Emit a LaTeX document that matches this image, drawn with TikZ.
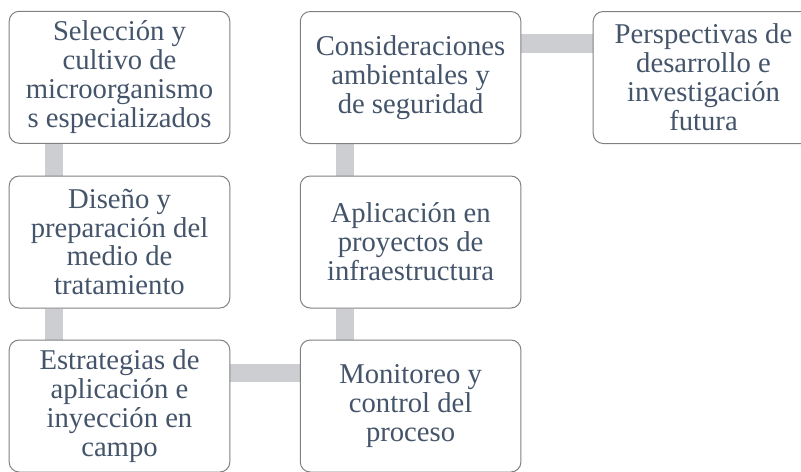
\documentclass[tikz,border=0pt]{standalone}
\usepackage{fontspec}
\setmainfont{Liberation Serif}
\usetikzlibrary{backgrounds}

\begin{document}
\begin{tikzpicture}[x=0.75pt,y=0.75pt,yscale=-1,xscale=1,
  stepbox/.style={draw={rgb, 255:red, 128; green, 128; blue, 128 },line width=0.75pt,fill=white,rounded corners=7.5pt,
    minimum width=165.5pt,minimum height=99pt,inner sep=0pt,align=center,
    text={rgb, 255:red, 68; green, 84; blue, 106 },font=\fontsize{21.5}{21.7}\selectfont},
  link/.style={draw={rgb, 255:red, 204; green, 206; blue, 210 },line width=13.9pt}]
%set diagram to 801 x 472
\useasboundingbox (0,0) rectangle (801,472);
\clip (0,0) rectangle (801,472);

%Shape: Rounded Rect [id:sel] 
\node (sel) at (119.5,77.3) [stepbox] {Selección y\\cultivo de\\microorganismo\\s especializados};
%Shape: Rounded Rect [id:dis] 
\node (dis) at (119.5,242) [stepbox] {Diseño y\\preparación del\\medio de\\tratamiento};
%Shape: Rounded Rect [id:est] 
\node (est) at (119.5,406) [stepbox] {Estrategias de\\aplicación e\\inyección en\\campo};
%Shape: Rounded Rect [id:mon] 
\node (mon) at (410.6,406) [stepbox] {Monitoreo y\\control del\\proceso};
%Shape: Rounded Rect [id:apl] 
\node (apl) at (410.6,242) [stepbox] {Aplicación en\\proyectos de\\infraestructura};
%Shape: Rounded Rect [id:con] 
\node (con) at (410.6,77.5) [stepbox] {Consideraciones\\ambientales y\\de seguridad};
%Shape: Rounded Rect [id:per] 
\node (per) at (703.5,77.5) [stepbox] {Perspectivas de\\desarrollo e\\investigación\\futura};

%Straight Lines (behind the boxes)
\begin{scope}[on background layer]
\draw [link] ([xshift=34pt]sel.south west) -- ([xshift=34pt]dis.north west) ;
\draw [link] ([xshift=34pt]dis.south west) -- ([xshift=34pt]est.north west) ;
\draw [link] ([yshift=25pt]est.north east) -- ([yshift=25pt]mon.north west) ;
\draw [link] ([xshift=34pt]mon.north west) -- ([xshift=34pt]apl.south west) ;
\draw [link] ([xshift=34pt]apl.north west) -- ([xshift=34pt]con.south west) ;
\draw [link] ([yshift=24.5pt]con.north east) -- ([yshift=24.5pt]per.north west) ;
\end{scope}

\end{tikzpicture}
\end{document}
